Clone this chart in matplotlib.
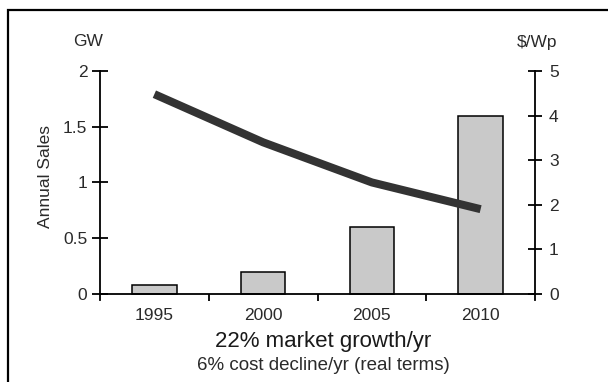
import matplotlib.pyplot as plt
from matplotlib.patches import Rectangle

plt.rcParams['font.family'] = ['Liberation Sans', 'DejaVu Sans']

YEARS = ['1995', '2000', '2005', '2010']
SALES_GW = [0.08, 0.2, 0.6, 1.6]
COST_USD_WP = [4.48, 3.4, 2.5, 1.9]
LEFT_TICKS = [0, 0.5, 1, 1.5, 2]
LEFT_LABELS = ['0', '0.5', '1', '1.5', '2']
RIGHT_TICKS = [0, 1, 2, 3, 4, 5]

TXT = '#2a2a2a'
YMIN = -0.055

fig = plt.figure(figsize=(6.08, 3.82), dpi=100)
ax = fig.add_axes([100 / 608, 1 - 300 / 382, 435 / 608, 229 / 382])

x = list(range(len(YEARS)))
ax.bar(x, SALES_GW, width=0.41, color='#c9c9c9', edgecolor='black', linewidth=1.1, zorder=2)

ax.set_xlim(-0.5, 3.5)
ax.set_ylim(YMIN, 2)
ax.spines['top'].set_visible(False)
ax.spines['right'].set_visible(False)
ax.spines['bottom'].set_position(('data', 0))
for s in ('left', 'bottom'):
    ax.spines[s].set_linewidth(1.3)

ax.set_yticks(LEFT_TICKS)
ax.set_yticklabels(LEFT_LABELS)
ax.tick_params(axis='y', direction='inout', length=12, width=1.3, pad=3,
               labelsize=12.5, labelcolor=TXT)
ax.set_xticks(x)
ax.set_xticklabels(YEARS)
ax.set_xticks([0.5, 1.5, 2.5], minor=True)
ax.tick_params(axis='x', which='major', length=0, pad=10, labelsize=12.5, labelcolor=TXT)
ax.tick_params(axis='x', which='minor', direction='out', length=5, width=1.3)

# right axis: cost per watt-peak
ax2 = ax.twinx()
ax2.set_ylim(YMIN * 2.5, 5)
ax2.plot(x, COST_USD_WP, color='#333333', linewidth=5.8, solid_capstyle='butt', zorder=3)
for s in ('top', 'left', 'bottom'):
    ax2.spines[s].set_visible(False)
ax2.spines['right'].set_linewidth(1.3)
ax2.set_yticks(RIGHT_TICKS)
ax2.tick_params(axis='y', direction='inout', length=10, width=1.3, pad=5,
                labelsize=12.5, labelcolor=TXT)

fig.text(88 / 608, 1 - 42 / 382, 'GW', ha='center', va='center', fontsize=12.5, color=TXT)
fig.text(537 / 608, 1 - 42 / 382, '$/Wp', ha='center', va='center', fontsize=12.5, color=TXT)
fig.text(46 / 608, 1 - 176 / 382, 'Annual Sales', ha='center', va='center',
         rotation=90, fontsize=12.5, color=TXT)
fig.text(323 / 608, 1 - 341 / 382, '22% market growth/yr', ha='center', va='center',
         fontsize=16, color='#1a1a1a')
fig.text(323 / 608, 1 - 366 / 382, '6% cost decline/yr (real terms)', ha='center',
         va='center', fontsize=13.5, color=TXT)

# outer frame
fig.patches.append(Rectangle((8 / 608, -0.1), 1.2, 1 - 10 / 382 + 0.1,
                             transform=fig.transFigure, fill=False,
                             edgecolor='black', linewidth=1.6))

fig.savefig('out.png', dpi=100)
